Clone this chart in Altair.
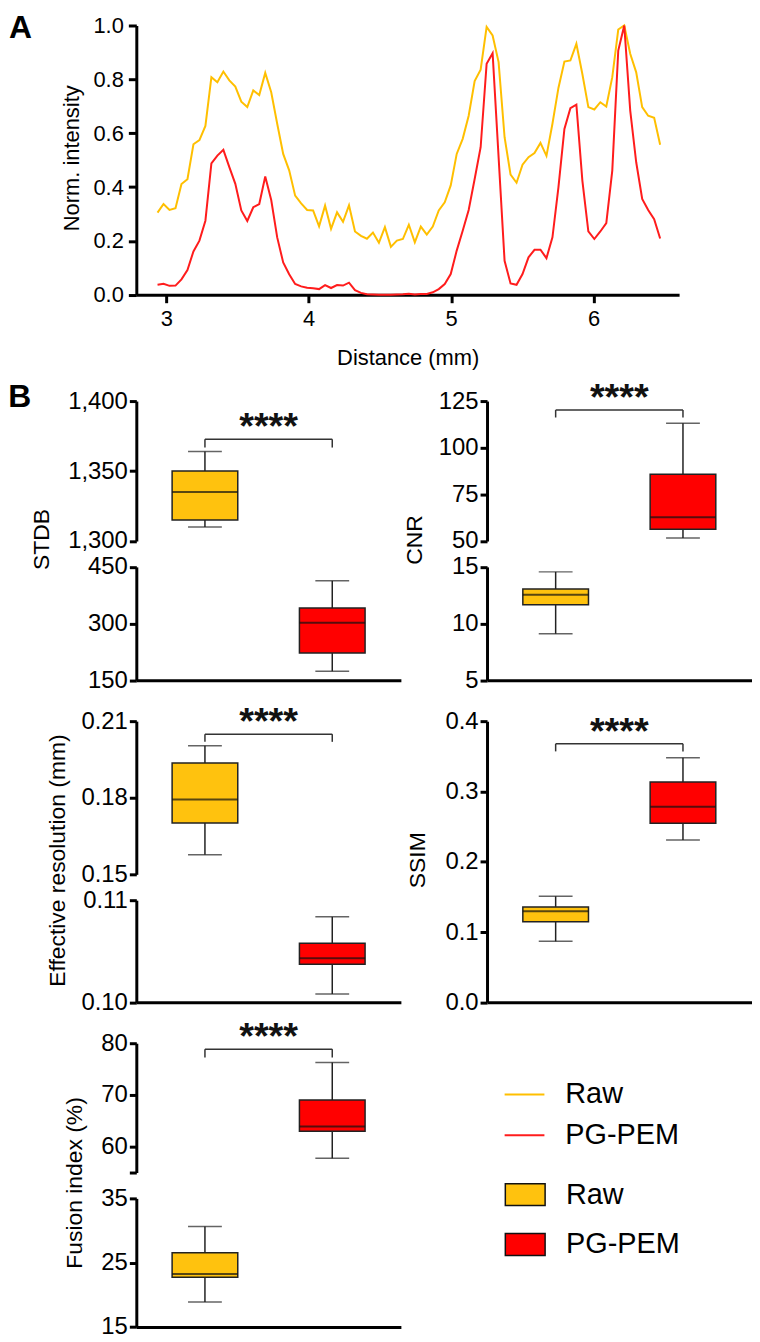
import altair as alt
import pandas as pd

FONT = "Liberation Sans"

# ---------------- Panel A data ----------------
dist_mm = [2.939, 2.981, 3.023, 3.065, 3.107, 3.149, 3.191, 3.233, 3.275, 3.317,
           3.359, 3.401, 3.443, 3.485, 3.527, 3.569, 3.611, 3.653, 3.695, 3.737,
           3.779, 3.821, 3.863, 3.905, 3.947, 3.989, 4.031, 4.073, 4.115, 4.157,
           4.199, 4.241, 4.283, 4.325, 4.367, 4.409, 4.451, 4.493, 4.535, 4.577,
           4.619, 4.661, 4.703, 4.745, 4.787, 4.829, 4.871, 4.913, 4.955, 4.997,
           5.039, 5.081, 5.123, 5.165, 5.207, 5.249, 5.291, 5.333, 5.375, 5.417,
           5.459, 5.501, 5.543, 5.585, 5.627, 5.669, 5.711, 5.753, 5.795, 5.837,
           5.879, 5.921, 5.963, 6.005, 6.047, 6.089, 6.131, 6.173, 6.215, 6.257,
           6.299, 6.341, 6.383, 6.425, 6.467]

raw_norm = [0.305, 0.337, 0.315, 0.321, 0.411, 0.429, 0.559, 0.574, 0.627, 0.808,
            0.789, 0.829, 0.796, 0.773, 0.717, 0.697, 0.759, 0.742, 0.824, 0.752,
            0.635, 0.523, 0.462, 0.368, 0.339, 0.315, 0.313, 0.254, 0.331, 0.245,
            0.306, 0.271, 0.332, 0.235, 0.219, 0.208, 0.231, 0.193, 0.251, 0.178,
            0.201, 0.207, 0.260, 0.195, 0.253, 0.223, 0.253, 0.313, 0.343, 0.406,
            0.523, 0.579, 0.665, 0.794, 0.836, 0.995, 0.963, 0.864, 0.585, 0.446,
            0.416, 0.483, 0.511, 0.526, 0.564, 0.516, 0.635, 0.768, 0.866, 0.870,
            0.932, 0.820, 0.697, 0.688, 0.715, 0.699, 0.808, 0.985, 1.000, 0.895,
            0.826, 0.697, 0.665, 0.657, 0.557]

pgpem_norm = [0.037, 0.041, 0.033, 0.034, 0.057, 0.092, 0.161, 0.201, 0.275, 0.488,
              0.517, 0.538, 0.474, 0.412, 0.313, 0.274, 0.325, 0.337, 0.439, 0.352,
              0.213, 0.120, 0.076, 0.040, 0.031, 0.026, 0.024, 0.021, 0.036, 0.025,
              0.036, 0.034, 0.045, 0.017, 0.007, 0.002, 0.001, 0.000, 0.000, 0.000,
              0.001, 0.002, 0.004, 0.001, 0.003, 0.003, 0.009, 0.021, 0.040, 0.077,
              0.164, 0.238, 0.315, 0.430, 0.548, 0.858, 0.897, 0.511, 0.126, 0.042,
              0.037, 0.077, 0.139, 0.167, 0.167, 0.136, 0.213, 0.399, 0.616, 0.693,
              0.706, 0.424, 0.235, 0.207, 0.235, 0.266, 0.461, 0.907, 1.000, 0.684,
              0.492, 0.356, 0.315, 0.281, 0.209]

# ---------------- Panel B data (box summaries: Raw, PG-PEM) ----------------
groups = ["Raw", "PG-PEM"]

stdb_min = [1310, 174]
stdb_q1 = [1315, 222]
stdb_med = [1335, 302]
stdb_q3 = [1350, 341]
stdb_max = [1364, 413]

cnr_min = [9.1, 51.6]
cnr_q1 = [11.67, 56.35]
cnr_med = [12.54, 62.7]
cnr_q3 = [13.04, 85.8]
cnr_max = [14.56, 113.1]

eff_min = [0.1577, 0.10082]
eff_q1 = [0.1701, 0.10374]
eff_med = [0.1793, 0.10432]
eff_q3 = [0.1936, 0.10578]
eff_max = [0.2004, 0.10837]

ssim_min = [0.0868, 0.2311]
ssim_q1 = [0.1146, 0.2546]
ssim_med = [0.1297, 0.2782]
ssim_q3 = [0.1358, 0.3136]
ssim_max = [0.1509, 0.348]

fus_min = [18.87, 57.75]
fus_q1 = [22.74, 63.0]
fus_med = [23.25, 63.9]
fus_q3 = [26.55, 69.0]
fus_max = [30.63, 76.28]

# significance bracket levels (top of bracket, end of drop) per panel
bracket_top = {"STDB": 1372.7, "CNR": 120.2, "EFF": 0.2049, "SSIM": 0.3678, "FUS": 78.85}
bracket_drop = {"STDB": 1366.8, "CNR": 116.2, "EFF": 0.2019, "SSIM": 0.357, "FUS": 77.24}

# ---------------- styles ----------------
LINE_YELLOW = "#FFBF00"
LINE_RED = "#FF1C1C"
BOX_YELLOW = "#FFC20E"
BOX_RED = "#FF0000"
EDGE = "#222222"

line_scale = alt.Scale(domain=groups, range=[LINE_YELLOW, LINE_RED])
box_scale = alt.Scale(domain=groups, range=[BOX_YELLOW, BOX_RED])

line_legend = alt.Legend(title=None, orient="none", legendX=16.7, legendY=30.5,
                         symbolType="stroke", symbolSize=1600, symbolStrokeWidth=2,
                         symbolOpacity=1,
                         labelFontSize=29, labelFont=FONT, labelColor="black",
                         labelOffset=20, rowPadding=5, padding=0)
box_legend = alt.Legend(title=None, orient="none", legendX=370, legendY=131.2,
                        symbolType="M-1,-0.55H1V0.55H-1Z", symbolSize=1600,
                        symbolStrokeColor="#111111", symbolStrokeWidth=1.5,
                        symbolOpacity=1,
                        labelFontSize=29, labelFont=FONT, labelColor="black",
                        labelOffset=20, rowPadding=14.1, padding=0)

# ---------------- Panel A ----------------
line_df = pd.concat([
    pd.DataFrame({"dist": dist_mm, "value": raw_norm, "series": "Raw"}),
    pd.DataFrame({"dist": dist_mm, "value": pgpem_norm, "series": "PG-PEM"}),
], ignore_index=True)

panel_a = alt.Chart(
    line_df,
    title=alt.TitleParams("A", anchor="start", frame="group", dx=-128, dy=55.2, offset=0,
                          baseline="alphabetic", fontSize=32, fontWeight="bold",
                          font=FONT, color="black"),
).mark_line(strokeWidth=2).encode(
    x=alt.X("dist:Q", scale=alt.Scale(domain=[2.79, 6.6], nice=False, zero=False),
            axis=alt.Axis(values=[3, 4, 5, 6], format="d", title="Distance (mm)",
                          labelFontSize=22, titleFontSize=22, tickSize=8, tickWidth=3,
                          domainWidth=3, labelPadding=6, titleY=70,
                          titleBaseline="alphabetic", grid=False)),
    y=alt.Y("value:Q", scale=alt.Scale(domain=[0, 1], nice=False),
            axis=alt.Axis(values=[0, 0.2, 0.4, 0.6, 0.8, 1.0], format=".1f",
                          title="Norm. intensity", labelFontSize=22, titleFontSize=22,
                          tickSize=8, tickWidth=3, domainWidth=3, labelPadding=5,
                          titleX=-57.7, titleY=133, titleAngle=270, titleAlign="center",
                          titleBaseline="alphabetic", grid=False)),
    stroke=alt.Stroke("series:N", scale=line_scale, legend=None),
).properties(width=545.7, height=270.7)


# ---------------- Panel B helpers ----------------
def box_df(mins, q1s, meds, q3s, maxs):
    return pd.DataFrame({"group": groups, "lo": mins, "q1": q1s, "med": meds,
                         "q3": q3s, "hi": maxs})


X_AXIS = alt.Axis(labels=False, ticks=False, title=None, domainWidth=3,
                  domainColor="black", grid=False, orient="bottom")
XSC = alt.Scale(domain=[0.5, 2.5], nice=False, zero=False)


def seg_layers(df, seg, ytitle=None, tx=0, ty=0, bkey=None, fill_legend=None):
    lo, hi = seg["domain"]
    ysc = alt.Scale(domain=[lo, hi], range=seg["range"], nice=False, zero=False)
    ax_kw = dict(values=seg["ticks"], format=seg["fmt"], labelFontSize=24, tickSize=7,
                 tickWidth=3, domainWidth=3, labelPadding=2, grid=False, orient="left")
    if seg.get("label_expr"):
        ax_kw["labelExpr"] = seg["label_expr"]
    if ytitle:
        ax_kw.update(title=ytitle, titleFontSize=23, titleX=tx, titleY=ty,
                     titleAngle=270, titleAlign="center", titleBaseline="alphabetic")
    else:
        ax_kw.update(title=None)
    yaxis = alt.Axis(**ax_kw)

    def X():
        return alt.X("pos:Q", scale=XSC, axis=X_AXIS)

    def Y(f):
        return alt.Y(f, scale=ysc, axis=yaxis)

    base = alt.Chart(df).transform_filter(
        f"datum.med >= {lo} && datum.med <= {hi}"
    ).transform_calculate(pos="indexof(['Raw', 'PG-PEM'], datum.group) + 1")

    layers = [
        base.mark_rule(color=EDGE, strokeWidth=1.5).encode(x=X(), y=Y("lo:Q"), y2="q1:Q"),
        base.mark_rule(color=EDGE, strokeWidth=1.5).encode(x=X(), y=Y("q3:Q"), y2="hi:Q"),
        base.mark_tick(orient="horizontal", size=34, thickness=1.5, color=EDGE).encode(x=X(), y=Y("lo:Q")),
        base.mark_tick(orient="horizontal", size=34, thickness=1.5, color=EDGE).encode(x=X(), y=Y("hi:Q")),
        base.mark_bar(size=66, stroke=EDGE, strokeWidth=1.5, opacity=1).encode(
            x=X(), y=Y("q1:Q"), y2="q3:Q",
            fill=alt.Fill("group:N", scale=box_scale, legend=fill_legend)),
        base.mark_tick(orient="horizontal", size=66, thickness=2, color="#111111").encode(
            x=X(), y=Y("med:Q")),
    ]
    if bkey is not None:
        bdf = pd.DataFrame({"top": [bracket_top[bkey]], "drop": [bracket_drop[bkey]]})
        bb = alt.Chart(bdf)
        layers += [
            bb.mark_rule(color="#333333", strokeWidth=1.5).encode(
                x=alt.X(datum=1, scale=XSC, axis=X_AXIS), x2=alt.X2(datum=2), y=Y("top:Q")),
            bb.mark_rule(color="#333333", strokeWidth=1.5).encode(
                x=alt.X(datum=1, scale=XSC, axis=X_AXIS), y=Y("top:Q"), y2="drop:Q"),
            bb.mark_rule(color="#333333", strokeWidth=1.5).encode(
                x=alt.X(datum=2, scale=XSC, axis=X_AXIS), y=Y("top:Q"), y2="drop:Q"),
            bb.mark_text(text="****", fontSize=38, fontWeight="bold", font=FONT,
                         baseline="alphabetic", align="center", dy=0, color="#111111").encode(
                x=alt.X(datum=1.5, scale=XSC, axis=X_AXIS), y=Y("top:Q")),
        ]
    return alt.layer(*layers)


def panel(df, segs, height, ytitle, tx, ty, bkey, chart_title=None, fill_legend=None):
    upper = seg_layers(df, segs[0], ytitle, tx, ty, bkey, fill_legend)
    if len(segs) > 1:
        lower = seg_layers(df, segs[1], fill_legend=fill_legend)
        ch = alt.layer(upper, lower).resolve_scale(y="independent")
    else:
        ch = upper
    props = dict(width=266, height=height)
    if chart_title is not None:
        props["title"] = chart_title
    return ch.properties(**props)


stdb = box_df(stdb_min, stdb_q1, stdb_med, stdb_q3, stdb_max)
cnr = box_df(cnr_min, cnr_q1, cnr_med, cnr_q3, cnr_max)
eff = box_df(eff_min, eff_q1, eff_med, eff_q3, eff_max)
ssim = box_df(ssim_min, ssim_q1, ssim_med, ssim_q3, ssim_max)
fus = box_df(fus_min, fus_q1, fus_med, fus_q3, fus_max)

b_title = alt.TitleParams("B", anchor="start", frame="group", dx=-128.7, dy=50.2, offset=0,
                          baseline="alphabetic", fontSize=32, fontWeight="bold",
                          font=FONT, color="black")

stdb_ch = panel(stdb, [
    dict(domain=[1300, 1400], range=[140.7, 0], ticks=[1300, 1350, 1400], fmt=",d"),
    dict(domain=[150, 450], range=[280.7, 166.7], ticks=[150, 300, 450], fmt="d"),
], 280.7, "STDB", -88.5, 138.7, "STDB", chart_title=b_title)

cnr_ch = panel(cnr, [
    dict(domain=[50, 125], range=[140.7, 0], ticks=[50, 75, 100, 125], fmt="d"),
    dict(domain=[5, 15], range=[280.7, 166.7], ticks=[5, 10, 15], fmt="d"),
], 280.7, "CNR", -66, 139.2, "CNR")

eff_ch = panel(eff, [
    dict(domain=[0.15, 0.21], range=[154, 0], ticks=[0.15, 0.18, 0.21], fmt=".2f"),
    dict(domain=[0.10, 0.11], range=[282.7, 180], ticks=[0.10, 0.11], fmt=".2f"),
], 282.7, "Effective resolution (mm)", -72, 139.7, "EFF")

ssim_ch = panel(ssim, [
    dict(domain=[0.0, 0.4], range=[282.7, 0], ticks=[0.0, 0.1, 0.2, 0.3, 0.4], fmt=".1f"),
], 282.7, "SSIM", -62.8, 139.3, "SSIM")

fus_ch = panel(fus, [
    dict(domain=[55, 80], range=[130, 0], ticks=[55, 60, 70, 80], fmt="d",
         label_expr="datum.value == 55 ? '' : datum.label"),
    dict(domain=[15, 35], range=[285.3, 156], ticks=[15, 25, 35], fmt="d"),
], 285.3, "Fusion index (%)", -55, 140, "FUS", fill_legend=box_legend)

legend_df = pd.DataFrame({"series": groups})
legend_host = alt.Chart(legend_df).transform_filter("false").mark_point(filled=False).encode(
    stroke=alt.Stroke("series:N", scale=line_scale, legend=line_legend)
).properties(width=266, height=285.3)

grid = alt.concat(
    stdb_ch, cnr_ch, eff_ch, ssim_ch, fus_ch, legend_host,
    columns=2, spacing={"row": 40.8, "column": 86.6}, bounds="flush", align="each",
).resolve_scale(fill="independent", stroke="independent")

chart = alt.vconcat(panel_a, grid, spacing=11.6).resolve_scale(
    fill="independent", stroke="independent"
).properties(
    padding={"left": 0, "top": 0, "right": 0, "bottom": 0}
).configure_view(stroke=None).configure_axis(
    labelFont=FONT, titleFont=FONT, labelColor="black", titleColor="black",
    domainColor="black", tickColor="black", titleFontWeight="normal",
).configure_legend(labelFont=FONT)

chart.save("out.html", embed_options={"renderer": "svg", "actions": False})
